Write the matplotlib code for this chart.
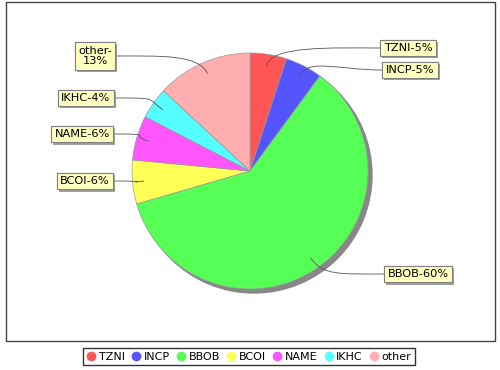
import numpy as np
import matplotlib
matplotlib.use('Agg')
import matplotlib.pyplot as plt
from matplotlib.patches import Circle, Rectangle, PathPatch
from matplotlib.path import Path
from matplotlib.lines import Line2D
import matplotlib.patheffects as pe

# data (share in %)
names = ['TZNI', 'INCP', 'BBOB', 'BCOI', 'NAME', 'IKHC', 'other']
values = [5.0, 5.1, 60.4, 6.0, 6.1, 4.3, 13.1]
colors = ['#FF5555', '#5555FF', '#55FF55', '#FFFF55', '#FF55FF', '#55FFFF', '#FFAFAF']

# label box centres in pixels (x from left, y from top)
label_pos = [(408, 48), (410, 70), (418, 274), (85, 181), (82, 134), (86, 98), (95, 56)]

W, H = 500, 370
cx, cy, R = 250, H - 171, 118

fig = plt.figure(figsize=(5, 3.7), dpi=100)
ax = fig.add_axes([0, 0, 1, 1])

# shadow of the pie
ax.add_patch(Circle((cx + 4, cy - 4), R, color='#878787', zorder=0))
wedges, _ = ax.pie(values, colors=colors, startangle=90, counterclock=False,
                   center=(cx, cy), radius=R,
                   wedgeprops=dict(edgecolor='#9a9a9a', linewidth=0.5))
ax.set_xlim(0, W)
ax.set_ylim(0, H)
ax.set_aspect('equal')
ax.axis('off')

total = sum(values)
for w, name, v, (lx, ly) in zip(wedges, names, values, label_pos):
    pct = int(round(v / total * 100))
    txt = '%s-%d%%' % (name, pct)
    if name == 'other':
        txt = '%s-\n%d%%' % (name, pct)
    ly = H - ly
    t = ax.text(lx, ly, txt, ha='center', va='center', fontsize=8.2,
                color='black', zorder=5, linespacing=1.05,
                bbox=dict(boxstyle='square,pad=0.3', facecolor='#FFFFC0',
                          edgecolor='#808080', linewidth=0.8))
    t.get_bbox_patch().set_path_effects([
        pe.withSimplePatchShadow(offset=(1.5, -1.5), shadow_rgbFace='#a0a0a0', alpha=1),
        pe.Normal()])
    # connector line
    theta = np.deg2rad((w.theta1 + w.theta2) / 2)
    d = np.array([np.cos(theta), np.sin(theta)])
    p0 = np.array([cx, cy]) + 0.9 * R * d
    p1 = np.array([cx, cy]) + 1.08 * R * d
    fig.canvas.draw()
    bb = t.get_bbox_patch().get_window_extent().transformed(ax.transData.inverted())
    if lx > cx:
        p3 = np.array([bb.x0, ly])
        p2 = p3 - [45, 0]
    else:
        p3 = np.array([bb.x1, ly])
        p2 = p3 + [45, 0]
    path = Path([p0, p1, p2, p3], [Path.MOVETO, Path.CURVE4, Path.CURVE4, Path.CURVE4])
    ax.add_patch(PathPatch(path, facecolor='none', edgecolor='#555555', linewidth=0.6, zorder=4))

# plot border
ax.add_patch(Rectangle((6, H - 341), 489, 339, fill=False, edgecolor='#444444',
                       linewidth=1.0, zorder=6))

handles = [Line2D([], [], marker='o', linestyle='none', markersize=6,
                  markerfacecolor=c, markeredgecolor=c) for c in colors]
leg = fig.legend(handles, names, loc='center', bbox_to_anchor=(249 / W, 1 - 356.5 / H),
                 ncol=7, fontsize=8, frameon=True, fancybox=False, handlelength=0.8,
                 handletextpad=0.3, columnspacing=0.6, borderpad=0.3)
leg.get_frame().set_edgecolor('black')
leg.get_frame().set_linewidth(1.0)

fig.savefig('out.png', dpi=100)
